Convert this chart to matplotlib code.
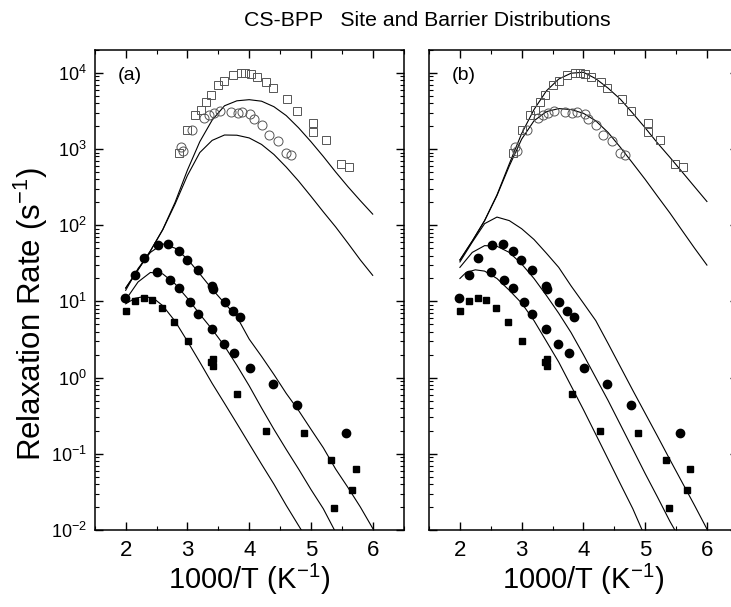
import numpy as np
import matplotlib
matplotlib.use("Agg")
import matplotlib.pyplot as plt
from matplotlib.ticker import LogLocator, MultipleLocator, NullFormatter, FixedLocator

plt.rcParams['font.family'] = ['Liberation Sans', 'DejaVu Sans']
plt.rcParams['mathtext.fontset'] = 'custom'
plt.rcParams['mathtext.rm'] = 'Liberation Sans'

# measured rates, filled symbols (same data in both panels)
hi_x = [1.99, 2.15, 2.29, 2.52, 2.69, 2.86, 2.99, 3.17, 3.39, 3.41, 3.61, 3.74, 3.85]
hi_y = [11.0, 22.2, 37.0, 55.5, 56.0, 46.5, 34.5, 25.5, 15.8, 14.6, 9.8, 7.5, 6.3]

mid_x = [2.51, 2.71, 2.86, 3.04, 3.17, 3.40, 3.59, 3.76, 4.01, 4.38, 4.77, 5.57]
mid_y = [24.2, 19.0, 15.0, 9.7, 6.9, 4.3, 2.8, 2.1, 1.32, 0.82, 0.44, 0.186]

sq_x = [2.00, 2.15, 2.30, 2.43, 2.58, 2.78, 3.01, 3.38, 3.41, 3.41, 3.81, 4.27,
        4.89, 5.33, 5.38, 5.67, 5.73]
sq_y = [7.6, 10.2, 11.2, 10.6, 8.3, 5.35, 3.05, 1.6, 1.75, 1.42, 0.61, 0.20,
        0.19, 0.084, 0.0196, 0.033, 0.063]

# open symbols
osq_x = [2.86, 3.00, 3.13, 3.22, 3.30, 3.38, 3.50, 3.60, 3.73, 3.86, 3.94, 4.03,
         4.12, 4.28, 4.38, 4.62, 4.77, 5.04, 5.04, 5.24, 5.49, 5.62]
osq_y = [880, 1800, 2800, 3300, 4100, 5100, 7000, 7900, 9350, 10100, 10100, 9600,
         8900, 7700, 6300, 4600, 3150, 2230, 1700, 1330, 630, 590]

oci_x = [2.90, 2.93, 3.08, 3.27, 3.35, 3.43, 3.53, 3.70, 3.82, 3.89, 4.02, 4.08,
         4.21, 4.32, 4.47, 4.59, 4.67]
oci_y = [1050, 950, 1800, 2530, 2790, 2940, 3190, 3100, 3000, 3100, 2920, 2500,
         2060, 1550, 1280, 900, 830]

# fitted curves, panel (a): site distribution
fa_x = [2.0, 2.2, 2.4, 2.6, 2.8, 3.0, 3.2, 3.4, 3.6, 3.8, 4.0, 4.2, 4.4, 4.6,
        4.8, 5.0, 5.2, 5.4, 5.6, 5.8, 6.0]
fa_open_hi = [15, 26, 46, 88, 200, 530, 1250, 2400, 3700, 4300, 4450, 4250, 3600,
              2750, 1900, 1250, 800, 500, 320, 210, 140]
fa_open_lo = [15, 26, 46, 87, 190, 450, 900, 1300, 1530, 1520, 1400, 1150, 850,
              580, 380, 240, 150, 95, 58, 35, 22]
fa_hi = [14, 27, 44, 57, 50, 36, 23, 14.5, 9.5, 6.3, 3.2, 1.9, 1.1, 0.62, 0.37,
         0.21, 0.12, 0.063, 0.036, 0.02, 0.0105]
fa_mid_x = [2.0, 2.2, 2.4, 2.6, 2.8, 3.0, 3.2, 3.4, 3.6, 3.8, 4.0, 4.2, 4.4, 4.6,
            4.8, 5.0, 5.2, 5.38]
fa_mid = [10.5, 18, 24, 23, 17, 11, 6.8, 4.3, 2.6, 1.45, 0.78, 0.40, 0.21, 0.114,
          0.063, 0.034, 0.019, 0.01]
fa_lo_x = [2.0, 2.15, 2.3, 2.45, 2.6, 2.8, 3.0, 3.2, 3.4, 3.6, 3.8, 4.0, 4.2, 4.4,
           4.6, 4.84]
fa_lo = [9.3, 11, 11.6, 11, 8.8, 5.5, 3.0, 1.6, 0.84, 0.46, 0.25, 0.135, 0.073,
         0.04, 0.021, 0.0101]

# fitted curves, panel (b): barrier distribution
fb_x = fa_x
fb_open_hi = [35, 62, 115, 250, 640, 1600, 3300, 5800, 8300, 9900, 10200, 8400,
              6300, 4500, 2950, 1900, 1200, 780, 500, 320, 205]
fb_open_lo = [35, 62, 115, 245, 600, 1350, 2350, 3100, 3400, 3300, 2950, 2350,
              1650, 1050, 650, 400, 240, 145, 85, 50, 30]
fb_hi = [33, 60, 105, 128, 115, 90, 65, 43, 28, 16, 9.5, 5.6, 2.8, 1.38, 0.68,
         0.34, 0.17, 0.084, 0.042, 0.021, 0.0103]
fb_mid_x = [2.0, 2.2, 2.4, 2.6, 2.8, 3.0, 3.2, 3.4, 3.6, 3.8, 4.0, 4.2, 4.4, 4.6,
            4.8, 5.0, 5.2, 5.4, 5.48]
fb_mid = [28, 44, 54, 53, 44, 31, 20, 12, 7, 3.9, 2.0, 1.0, 0.5, 0.24, 0.115,
          0.055, 0.027, 0.013, 0.01]
fb_lo_x = [2.0, 2.1, 2.25, 2.4, 2.6, 2.8, 3.0, 3.2, 3.4, 3.6, 3.8, 4.0, 4.2, 4.4,
           4.6, 4.8, 4.95]
fb_lo = [20, 24, 26, 25, 20, 14, 9.5, 5.6, 3.0, 1.6, 0.78, 0.38, 0.18, 0.085,
         0.04, 0.019, 0.01]

decades = [1e-2, 1e-1, 1e0, 1e1, 1e2, 1e3, 1e4]

fig = plt.figure(figsize=(7.31, 6.07), dpi=100)
ax1 = fig.add_axes([0.1297, 0.1269, 0.4224, 0.7908])
ax2 = fig.add_axes([0.5869, 0.1269, 0.4224, 0.7908])

panels = [
    (ax1, "(a)", fa_open_hi, fa_open_lo, fa_hi, fa_mid_x, fa_mid, fa_lo_x, fa_lo),
    (ax2, "(b)", fb_open_hi, fb_open_lo, fb_hi, fb_mid_x, fb_mid, fb_lo_x, fb_lo),
]

for ax, tag, f_ohi, f_olo, f_hi, f_mx, f_mid, f_lx, f_lo in panels:
    lw = 0.8
    ax.plot(fa_x, f_ohi, c="k", lw=lw)
    ax.plot(fa_x, f_olo, c="k", lw=lw)
    ax.plot(fa_x, f_hi, c="k", lw=lw)
    ax.plot(f_mx, f_mid, c="k", lw=lw)
    ax.plot(f_lx, f_lo, c="k", lw=lw)

    ax.plot(osq_x, osq_y, ls="none", marker="s", ms=6, mfc="none",
            mec="#555555", mew=0.7)
    ax.plot(oci_x, oci_y, ls="none", marker="o", ms=6.5, mfc="none",
            mec="#555555", mew=0.7)
    ax.plot(hi_x, hi_y, ls="none", marker="o", ms=6, c="k")
    ax.plot(mid_x, mid_y, ls="none", marker="o", ms=6, c="k")
    ax.plot(sq_x, sq_y, ls="none", marker="s", ms=5, c="k")

    ax.set_yscale("log")
    ax.set_xlim(1.5, 6.5)
    ax.set_ylim(1e-2, 2e4)
    ax.set_xticks([2, 3, 4, 5, 6])
    ax.xaxis.set_minor_locator(MultipleLocator(0.5))
    ax.yaxis.set_major_locator(FixedLocator(decades))
    ax.yaxis.set_minor_locator(LogLocator(base=10, subs=np.arange(2, 10), numticks=12))
    ax.yaxis.set_minor_formatter(NullFormatter())
    ax.tick_params(which="both", direction="in", top=True, right=True)
    ax.tick_params(which="major", length=6, width=1.0, labelsize=16, pad=7)
    ax.tick_params(which="minor", length=3, width=0.8)
    ax.tick_params(axis="y", which="major", labelsize=13, pad=6)
    for s in ax.spines.values():
        s.set_linewidth(1.1)
    ax.text(0.075, 0.965, tag, transform=ax.transAxes, fontsize=14,
            ha="left", va="top")
    ax.set_xlabel("1000/T (K$^{-1}$)", fontsize=21, labelpad=1)

ax2.tick_params(axis="y", which="both", labelleft=False)
ax1.set_ylabel("Relaxation Rate (s$^{-1}$)", fontsize=22.5)
ax1.yaxis.set_label_coords(-0.145, 0.45)

fig.text(0.584, 0.966, "CS-BPP   Site and Barrier Distributions",
         ha="center", va="center", fontsize=15.3)

fig.savefig("out.png", dpi=100)
